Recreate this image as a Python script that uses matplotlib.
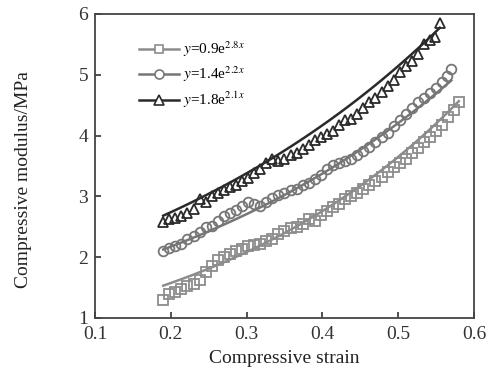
import numpy as np
import matplotlib
matplotlib.use("Agg")
import matplotlib.pyplot as plt
from matplotlib.lines import Line2D

plt.rcParams['font.family'] = ['Liberation Serif', 'DejaVu Serif']
plt.rcParams['mathtext.fontset'] = 'stix'

# Series 1: squares, fit y = 0.9 e^{2.8x}
sq_x = [0.190, 0.198, 0.206, 0.214, 0.222, 0.230, 0.238, 0.246, 0.254, 0.262,
        0.270, 0.278, 0.286, 0.294, 0.302, 0.310, 0.318, 0.326, 0.334, 0.342,
        0.350, 0.358, 0.366, 0.374, 0.382, 0.390, 0.398, 0.406, 0.414, 0.422,
        0.430, 0.438, 0.446, 0.454, 0.462, 0.470, 0.478, 0.486, 0.494, 0.502,
        0.510, 0.518, 0.526, 0.534, 0.542, 0.550, 0.558, 0.566, 0.574, 0.580]
sq_y = [1.30, 1.40, 1.42, 1.47, 1.52, 1.56, 1.62, 1.75, 1.85, 1.96,
        2.00, 2.05, 2.10, 2.13, 2.18, 2.20, 2.22, 2.26, 2.30, 2.38,
        2.43, 2.48, 2.50, 2.55, 2.62, 2.60, 2.70, 2.76, 2.82, 2.88,
        2.95, 3.00, 3.06, 3.12, 3.18, 3.25, 3.32, 3.40, 3.48, 3.55,
        3.62, 3.72, 3.80, 3.90, 3.98, 4.08, 4.18, 4.30, 4.42, 4.55]

# Series 2: circles, fit y = 1.4 e^{2.2x}
ci_x = [0.190, 0.198, 0.206, 0.214, 0.222, 0.230, 0.238, 0.246, 0.254, 0.262,
        0.270, 0.278, 0.286, 0.294, 0.302, 0.310, 0.318, 0.326, 0.334, 0.342,
        0.350, 0.358, 0.366, 0.374, 0.382, 0.390, 0.398, 0.406, 0.414, 0.422,
        0.430, 0.438, 0.446, 0.454, 0.462, 0.470, 0.478, 0.486, 0.494, 0.502,
        0.510, 0.518, 0.526, 0.534, 0.542, 0.550, 0.558, 0.564, 0.570]
ci_y = [2.10, 2.15, 2.18, 2.22, 2.30, 2.35, 2.42, 2.50, 2.52, 2.60,
        2.68, 2.72, 2.78, 2.85, 2.90, 2.88, 2.85, 2.90, 2.98, 3.02,
        3.05, 3.10, 3.12, 3.18, 3.22, 3.28, 3.35, 3.45, 3.52, 3.55,
        3.58, 3.62, 3.68, 3.75, 3.82, 3.90, 3.98, 4.05, 4.15, 4.25,
        4.35, 4.45, 4.55, 4.62, 4.70, 4.78, 4.88, 4.98, 5.10]

# Series 3: triangles, fit y = 1.8 e^{2.1x}
tr_x = [0.190, 0.198, 0.206, 0.214, 0.222, 0.230, 0.238, 0.246, 0.254, 0.262,
        0.270, 0.278, 0.286, 0.294, 0.302, 0.310, 0.318, 0.326, 0.334, 0.342,
        0.350, 0.358, 0.366, 0.374, 0.382, 0.390, 0.398, 0.406, 0.414, 0.422,
        0.430, 0.438, 0.446, 0.454, 0.462, 0.470, 0.478, 0.486, 0.494, 0.502,
        0.510, 0.518, 0.526, 0.534, 0.542, 0.548, 0.555]
tr_y = [2.58, 2.62, 2.65, 2.68, 2.72, 2.80, 2.95, 2.90, 3.00, 3.05,
        3.10, 3.15, 3.18, 3.25, 3.30, 3.38, 3.45, 3.55, 3.62, 3.58,
        3.62, 3.68, 3.72, 3.78, 3.85, 3.92, 3.98, 4.02, 4.08, 4.18,
        4.25, 4.28, 4.35, 4.45, 4.55, 4.62, 4.72, 4.82, 4.92, 5.05,
        5.15, 5.22, 5.35, 5.50, 5.58, 5.62, 5.85]

# Fit model parameters (a, b) for y = a*exp(b*x)
fit_a = [0.9, 1.4, 1.8]
fit_b = [2.8, 2.2, 2.1]
labels = [r'$y$=0.9e$^{2.8x}$', r'$y$=1.4e$^{2.2x}$', r'$y$=1.8e$^{2.1x}$']

colors = ['#8c8c8c', '#767676', '#2a2a2a']
markers = ['s', 'o', '^']
msizes = [6.5, 7, 7.5]
series = [(sq_x, sq_y), (ci_x, ci_y), (tr_x, tr_y)]

fig = plt.figure(figsize=(4.96, 3.77), dpi=100)
ax = fig.add_axes([0.1915, 0.1565, 0.7641, 0.8064])

handles = []
for (xs, ys), a, b, c, m, ms, lab in zip(series, fit_a, fit_b, colors, markers, msizes, labels):
    ax.plot(xs, ys, linestyle='none', marker=m, markersize=ms,
            markerfacecolor='none', markeredgecolor=c, markeredgewidth=1.3)
    xf = np.linspace(min(xs), max(xs), 100)
    ax.plot(xf, a * np.exp(b * xf), color=c, linewidth=1.8)
    handles.append(Line2D([], [], color=c, linewidth=1.8, marker=m, markersize=ms - 0.5,
                          markerfacecolor='white', markeredgecolor=c,
                          markeredgewidth=1.2, label=lab))

ax.set_xlim(0.1, 0.6)
ax.set_ylim(1, 6)
ax.set_xticks([0.1, 0.2, 0.3, 0.4, 0.5, 0.6])
ax.set_xticklabels(['0.1', '0.2', '0.3', '0.4', '0.5', '0.6'])
ax.set_yticks([1, 2, 3, 4, 5, 6])
ax.tick_params(direction='in', length=4, width=1.2, labelsize=14, colors='#333333',
               top=False, right=False)
ax.tick_params(axis='x', pad=6)
ax.tick_params(axis='y', pad=5)
for s in ax.spines.values():
    s.set_linewidth(1.3)
    s.set_color('#444444')

ax.set_xlabel('Compressive strain', fontsize=14, color='#222222')
ax.set_ylabel('Compressive modulus/MPa', fontsize=14, color='#222222')
ax.xaxis.set_label_coords(0.5, -0.105)
ax.yaxis.set_label_coords(-0.165, 0.454)

leg = ax.legend(handles=handles, loc='upper left', bbox_to_anchor=(0.08, 0.96),
                frameon=False, fontsize=11, handlelength=2.6, handletextpad=0.3,
                labelspacing=0.35)

fig.savefig('out.png', dpi=100)
